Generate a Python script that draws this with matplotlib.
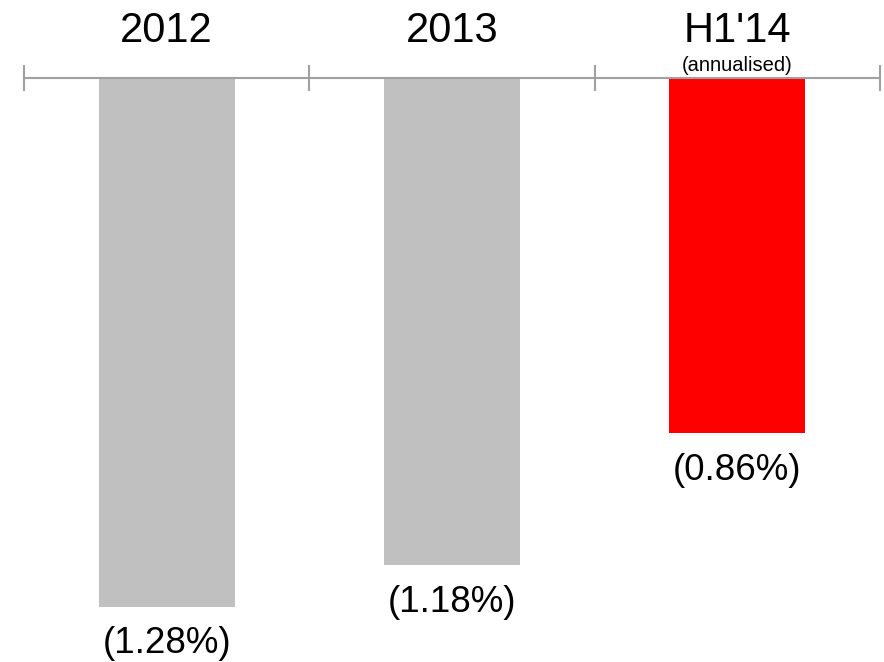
import matplotlib.pyplot as plt

periods = ['2012', '2013', "H1'14"]
notes = ['', '', '(annualised)']
values = [1.28, 1.18, 0.86]
labels = ['(1.28%)', '(1.18%)', '(0.86%)']
colors = ['#c0c0c0', '#c0c0c0', '#ff0000']

plt.rcParams['font.family'] = ['Liberation Sans', 'DejaVu Sans']

fig = plt.figure(figsize=(8.84, 6.62), dpi=100)
ax = fig.add_axes([24 / 884, 0, 856 / 884, 584 / 662])

x = range(len(periods))
ax.bar(x, [-v for v in values], width=0.477, color=colors, zorder=1)

ax.set_xlim(-0.5, len(periods) - 0.5)
ax.set_ylim(-584 / 413, 0)

# axis line across the top with ticks between the categories
for side in ['left', 'right', 'bottom']:
    ax.spines[side].set_visible(False)
ax.spines['top'].set_color('#a0a0a0')
ax.spines['top'].set_linewidth(1.5)
ax.spines['top'].set_zorder(3)
ax.xaxis.tick_top()
ax.set_xticks([i - 0.5 for i in range(len(periods) + 1)])
ax.tick_params(axis='x', direction='inout', length=19, width=1.5,
               color='#a0a0a0', labeltop=False)
ax.set_yticks([])

for i, (p, n, v, lab) in enumerate(zip(periods, notes, values, labels)):
    ax.annotate(p, xy=(i, 1), xycoords=('data', 'axes fraction'),
                xytext=(0, 26), textcoords='offset points',
                ha='center', va='baseline', fontsize=30)
    if n:
        ax.annotate(n, xy=(i, 1), xycoords=('data', 'axes fraction'),
                    xytext=(0, 5), textcoords='offset points',
                    ha='center', va='baseline', fontsize=14.5)
    ax.annotate(lab, xy=(i, -v), xytext=(0, -14), textcoords='offset points',
                ha='center', va='top', fontsize=26.5)

fig.savefig('out.png', dpi=100)
